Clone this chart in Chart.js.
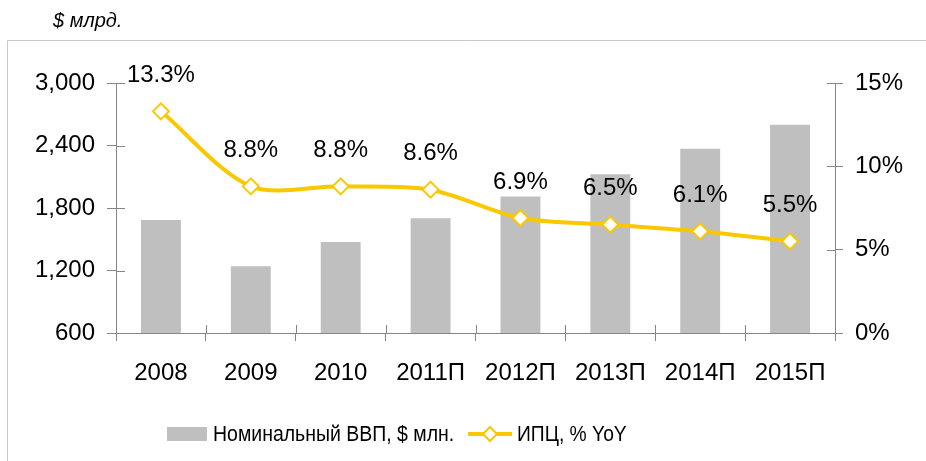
<!DOCTYPE html>
<html><head><meta charset="utf-8">
<script src="https://cdn.jsdelivr.net/npm/chart.js@4"></script>
<style>html,body{margin:0;padding:0;background:#fff;}#wrap{width:926px;height:461px;position:relative;}</style>
</head><body><div id="wrap"><canvas id="c" width="926" height="461"></canvas></div>
<script>
const categories = ['2008','2009','2010','2011П','2012П','2013П','2014П','2015П'];
const gdpValues = [1685, 1242, 1474, 1702, 1910, 2125, 2368, 2600];
const cpiValues = [13.3, 8.8, 8.8, 8.6, 6.9, 6.5, 6.1, 5.5];
const cpiLabels = ['13.3%','8.8%','8.8%','8.6%','6.9%','6.5%','6.1%','5.5%'];
const leftTicks = [600, 1200, 1800, 2400, 3000];
const rightTicks = [0, 5, 10, 15];
const gdpName = 'Номинальный ВВП, $ млн.';
const cpiName = 'ИПЦ, % YoY';
const unitTitle = '$ млрд.';

const FONT = 'Liberation Sans, Arial, sans-serif';
const AX = '#868686';
const BAR = '#BFBFBF';
const GOLD = '#F9C800';

function condensedText(ctx, txt, x, y, sx) {
  ctx.save(); ctx.translate(x, y); ctx.scale(sx, 1); ctx.fillText(txt, 0, 0); ctx.restore();
}

const decor = {
  id: 'decor',
  beforeDraw(chart) {
    const ctx = chart.ctx;
    ctx.save();
    ctx.strokeStyle = '#c8c8c8'; ctx.lineWidth = 1;
    ctx.beginPath(); ctx.moveTo(7.5, 461); ctx.lineTo(7.5, 40.5); ctx.lineTo(926, 40.5); ctx.stroke();
    ctx.fillStyle = '#000'; ctx.font = 'italic 20px ' + FONT;
    ctx.textBaseline = 'alphabetic'; ctx.textAlign = 'left';
    ctx.fillText(unitTitle, 53, 27);
    ctx.restore();
  },
  afterDatasetsDraw(chart) {
    const ctx = chart.ctx;
    const ca = chart.chartArea;
    ctx.save();
    ctx.strokeStyle = AX; ctx.lineWidth = 1;
    const yl = chart.scales.y, yr = chart.scales.y1, x = chart.scales.x;
    ctx.beginPath();
    yl.ticks.forEach((t,i)=>{ const p = Math.round(yl.getPixelForTick(i))+0.5; ctx.moveTo(ca.left, p); ctx.lineTo(ca.left+9, p); });
    yr.ticks.forEach((t,i)=>{ const p = Math.round(yr.getPixelForTick(i))+0.5; ctx.moveTo(ca.right-8, p); ctx.lineTo(ca.right, p); });
    for (let i=1;i<categories.length;i++){ const p = Math.round((x.getPixelForValue(i-1)+x.getPixelForValue(i))/2)+0.5; ctx.moveTo(p, ca.bottom-8); ctx.lineTo(p, ca.bottom); }
    ctx.stroke();
  },
  afterDraw(chart) {
    const ctx = chart.ctx;
    ctx.save();
    // data labels
    const meta = chart.getDatasetMeta(0);
    ctx.fillStyle = '#000'; ctx.font = '24px ' + FONT; ctx.textAlign = 'center'; ctx.textBaseline = 'middle';
    meta.data.forEach((pt,i)=>{ ctx.fillText(cpiLabels[i], pt.x, pt.y - 36); });
    // legend
    const ly = 434;
    ctx.fillStyle = BAR; ctx.fillRect(167, ly-7, 40, 14);
    ctx.fillStyle = '#000'; ctx.textAlign = 'left'; ctx.font = '22px ' + FONT;
    condensedText(ctx, gdpName, 213, ly+1, 0.885);
    ctx.strokeStyle = GOLD; ctx.lineWidth = 4;
    ctx.beginPath(); ctx.moveTo(468, ly); ctx.lineTo(512, ly); ctx.stroke();
    ctx.fillStyle = '#fff'; ctx.lineWidth = 2;
    ctx.beginPath(); ctx.moveTo(490, ly-7); ctx.lineTo(497, ly); ctx.lineTo(490, ly+7); ctx.lineTo(483, ly); ctx.closePath(); ctx.fill(); ctx.stroke();
    ctx.fillStyle = '#000';
    condensedText(ctx, cpiName, 517, ly+1, 0.875);
    ctx.restore();
  }
};

new Chart(document.getElementById('c'), {
  type: 'bar',
  data: {
    labels: categories,
    datasets: [
      { type: 'line', label: cpiName, data: cpiValues, yAxisID: 'y1', borderColor: GOLD, borderWidth: 4,
        tension: 0.3, pointStyle: 'rectRot', pointRadius: 8, pointBorderWidth: 2,
        pointBackgroundColor: '#fff', pointBorderColor: GOLD, order: 0 },
      { type: 'bar', label: gdpName, data: gdpValues, yAxisID: 'y', backgroundColor: BAR,
        categoryPercentage: 1, barPercentage: 0.444, order: 1 }
    ]
  },
  options: {
    responsive: false, animation: false,
    layout: { padding: { top: 83, left: 0, right: 0, bottom: 0 } },
    plugins: { legend: { display: false }, tooltip: { enabled: false } },
    scales: {
      x: {
        offset: true,
        grid: { offset: true, drawOnChartArea: false, drawTicks: true, tickLength: 8, color: AX },
        border: { color: AX },
        ticks: { color: '#000', font: { family: FONT, size: 24 }, padding: 18, maxRotation: 0 },
        afterFit(s) { s.height = 128; }
      },
      y: {
        position: 'left', min: 600, max: 3000,
        afterBuildTicks(s) { s.ticks = leftTicks.map(v=>({value:v})); },
        grid: { drawOnChartArea: false, tickLength: 9, color: AX },
        border: { color: AX },
        ticks: { color: '#000', font: { family: FONT, size: 24 }, padding: 12,
          callback: v => v.toLocaleString('en-US') },
        afterFit(s) { s.width = 116; }
      },
      y1: {
        position: 'right', min: 0, max: 15,
        afterBuildTicks(s) { s.ticks = rightTicks.map(v=>({value:v})); },
        grid: { drawOnChartArea: false, tickLength: 8, color: AX },
        border: { color: AX },
        ticks: { color: '#000', font: { family: FONT, size: 24 }, padding: 12, callback: v => v + '%' },
        afterFit(s) { s.width = 91; }
      }
    }
  },
  plugins: [decor]
});
</script></body></html>
